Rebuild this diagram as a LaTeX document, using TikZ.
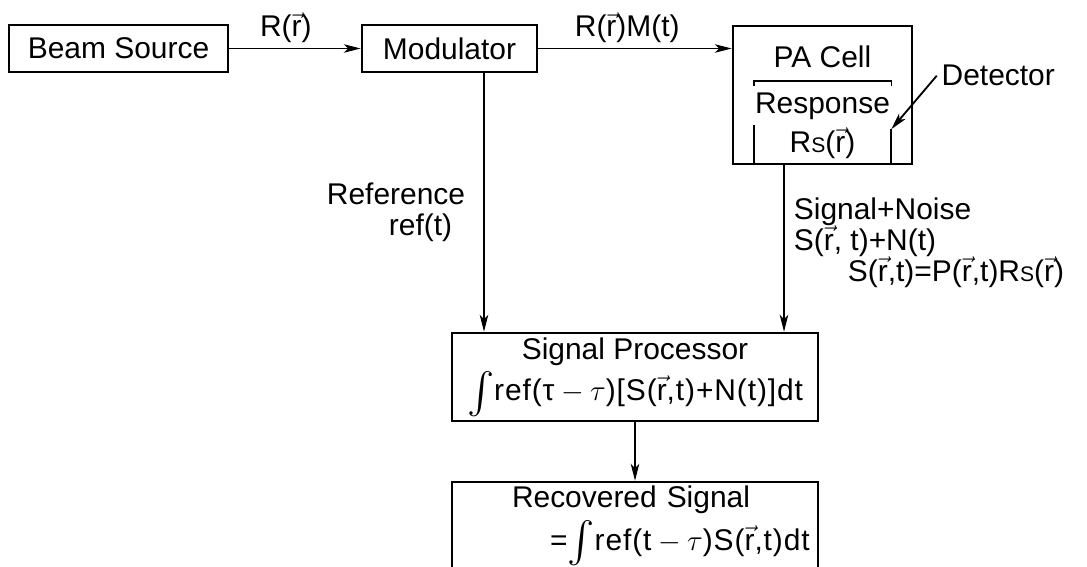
\documentclass[tikz,border=0pt]{standalone}
\usepackage{amsmath}
\usepackage{fontspec}
\setmainfont{Liberation Sans}
\usepackage{tikz}
\usetikzlibrary{positioning, arrows.meta}

\newcommand{\rvec}{$\vec{\text{r}}$}
\newcommand{\sens}{{\fontsize{15}{15}\selectfont S}}
\newcommand{\intsym}{\raisebox{-0.12em}{\scalebox{1.4}{$\int$}}}
\newcommand{\minus}{${}-{}$}
\newcommand{\spread}[1]{{\addfontfeature{LetterSpace=3}#1}}

\begin{document}
\begin{tikzpicture}[node distance=2cm, on grid,
    font=\fontsize{21.3}{22}\selectfont,
    >={Stealth[length=12pt, width=6pt, inset=3pt]},
    block/.style={draw, line width=1.8pt, inner sep=0pt},
    flow/.style={->, line width=1.3pt}]
   \useasboundingbox (-2.9625,1.2125) rectangle (24.2125,-12.9375);
   \node[block, minimum width=5.475cm, minimum height=1.175cm] (src) {Beam Source};
   \node[block, minimum width=4.375cm, minimum height=1.175cm] (mod) [right=8.275cm of src] {Modulator};
   \node[block, minimum width=4.475cm, minimum height=3.45cm] (pa) [below right=1.1625cm and 9.325cm of mod] {};
   \node[block, minimum width=9.15cm, minimum height=2.2cm, align=center] (sp) [below right=8.2125cm and 4.6375cm of mod]
     {Signal Processor\\[3pt] \intsym\spread{ref(τ\minus$\tau$)[S(\rvec,t)+N(t)]dt}};
   \node[block, minimum height=2.2cm, text width=9.15cm, align=left] (rec) [below=3.725cm of sp]
     {\hspace*{1.5cm}Recovered Signal\\[4pt] \hspace*{2.45cm}\spread{=\intsym ref(t\minus$\tau$)S(\rvec,t)dt}};

   % inside the PA cell
   \node (pacell) at ([yshift=-0.8cm]pa.north) {PA Cell};
   \node (resp) at ([yshift=-2.05cm]pa.north) {Response};
   \node (rs) at ([yshift=0.55cm]pa.south) {R\sens(\rvec)};
   \coordinate (brl) at ([xshift=0.55cm, yshift=-1.4cm]pa.north west);
   \coordinate (brr) at ([xshift=-0.55cm, yshift=-1.4cm]pa.north east);
   \draw[line width=1.1pt] ([yshift=-0.125cm]brl) -- (brl) -- (brr) -- ([yshift=-0.125cm]brr);
   \coordinate (dl) at ([xshift=0.55cm]pa.south west);
   \coordinate (dr) at ([xshift=-0.55cm]pa.south east);
   \draw[line width=1.4pt] (dl) -- ++(0,1.0);
   \draw[line width=1.4pt] (dr) -- ++(0,0.9) coordinate (drtop);

   \node (det) at ([xshift=2.125cm, yshift=-1.275cm]pa.north east) {Detector};
   \draw[flow] (det.west) -- (drtop);

   \draw[flow] (src) -- node[above, pos=0.43] {R(\rvec)} (mod);
   \draw[flow] (mod) -- (mod -| pa.west) node[pos=0.46, above] {R(\rvec)M(t)};
   \draw[flow] ([xshift=0.8625cm]mod.south) -- ([xshift=0.8625cm]mod.south |- sp.north)
     node[pos=0.42, anchor=north east, xshift=-0.45cm, inner sep=0pt, align=right]
     {Reference\\ ref(t)\hspace*{0.325cm}\mbox{}};
   \draw[flow] ([xshift=-0.9625cm]pa.south) -- ([xshift=-0.9625cm]pa.south |- sp.north)
     node[pos=0.19, anchor=north west, xshift=0.225cm, inner sep=0pt, align=left]
     {Signal+Noise\\ S(\rvec, t)+N(t)\\ \hspace*{1.35cm}S(\rvec,t)=P(\rvec,t)R\sens(\rvec)};
   \draw[flow] (sp) -- (rec);
\end{tikzpicture}
\end{document}
